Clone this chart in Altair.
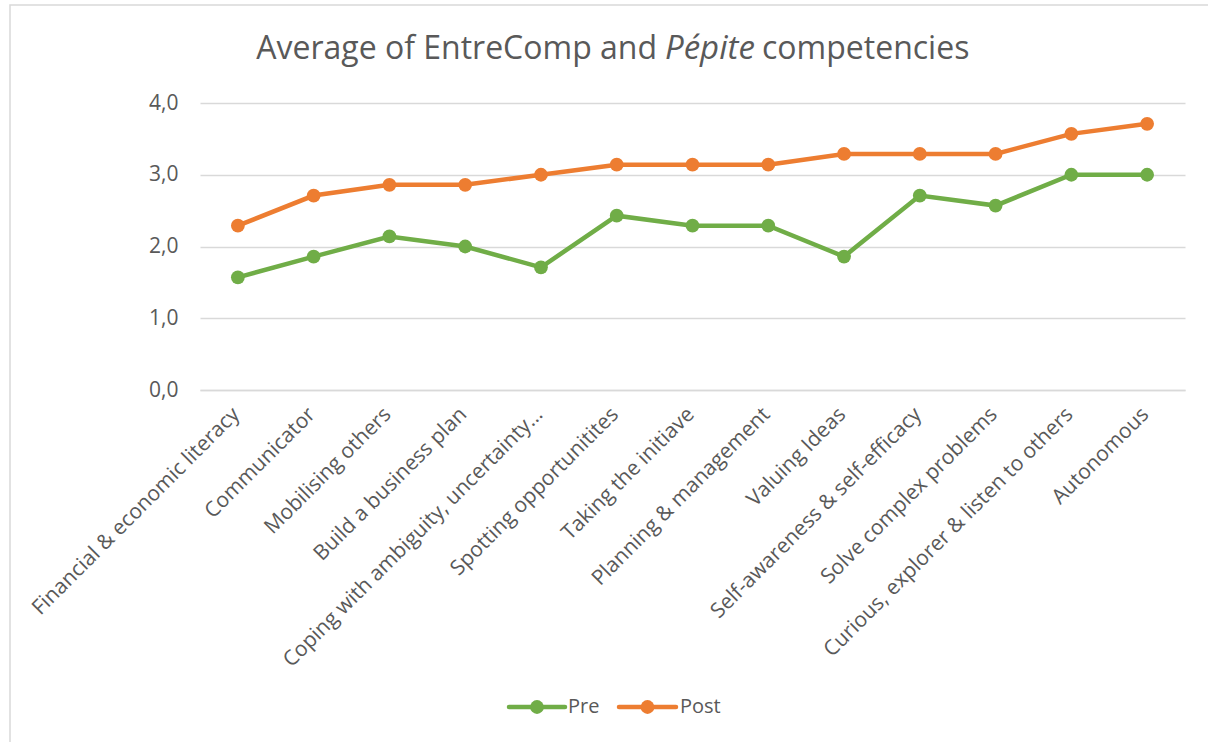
import altair as alt
import pandas as pd

categories = [
    "Financial  & economic literacy",
    "Communicator",
    "Mobilising others",
    "Build a business plan",
    "Coping with ambiguity, uncertainty…",
    "Spotting opportunitites",
    "Taking the initiave",
    "Planning & management",
    "Valuing Ideas",
    "Self-awareness & self-efficacy",
    "Solve complex problems",
    "Curious, explorer & listen to others",
    "Autonomous",
]
pre = [1.57, 1.86, 2.14, 2.00, 1.71, 2.43, 2.29, 2.29, 1.86, 2.71, 2.57, 3.00, 3.00]
post = [2.29, 2.71, 2.86, 2.86, 3.00, 3.14, 3.14, 3.14, 3.29, 3.29, 3.29, 3.57, 3.71]
series = ["Pre", "Post"]
colors = ["#70AD47", "#ED7D31"]
y_ticks = [0, 1, 2, 3, 4]

rows = []
for s, vals in zip(series, [pre, post]):
    for c, v in zip(categories, vals):
        rows.append({"category": c, "series": s, "value": v})
df = pd.DataFrame(rows)

FONT = "Open Sans"
GRAY = "#595959"
GRID = "#d9d9d9"

x_enc = alt.X(
    "category:N",
    sort=categories,
    title=None,
    axis=alt.Axis(
        labelAngle=-45,
        labelAlign="right",
        labelBaseline="middle",
        labelPadding=21,
        labelOffset=-2,
        labelFontSize=21,
        labelFont=FONT,
        labelColor=GRAY,
        ticks=False,
        domain=True,
        domainColor=GRID,
        domainWidth=1.3,
        grid=False,
        labelLimit=0,
    ),
)
y_enc = alt.Y(
    "value:Q",
    title=None,
    scale=alt.Scale(domain=[0, 4], nice=False),
    axis=alt.Axis(
        values=y_ticks,
        labelExpr="replace(format(datum.value, '.1f'), '.', ',')",
        labelFontSize=21,
        labelFont=FONT,
        labelColor=GRAY,
        labelPadding=22,
        ticks=False,
        domain=False,
        grid=True,
        gridColor=GRID,
        gridWidth=1.3,
    ),
)
color_enc = alt.Color(
    "series:N",
    scale=alt.Scale(domain=series, range=colors),
    legend=None,
)

base = alt.Chart(df)
lines = base.mark_line(strokeWidth=4.5).encode(x=x_enc, y=y_enc, color=color_enc, detail="series:N")
points = base.mark_point(filled=True, size=190, opacity=1).encode(
    x=x_enc, y=y_enc, color=color_enc
)

one = alt.Data(values=[{"a": 1}])

# Outer chart border
border = alt.Chart(one).mark_rect(fill=None, stroke=GRID, strokeWidth=1.5).encode(
    x=alt.value(-190), x2=alt.value(1030), y=alt.value(-98), y2=alt.value(660)
)

# Title pieces (italic middle word)
title_y = -54
TS = 32
t1 = alt.Chart(one).mark_text(
    text="Average of EntreComp and", font=FONT, fontSize=TS, color=GRAY, align="right", baseline="middle"
).encode(x=alt.value(457), y=alt.value(title_y))
t2 = alt.Chart(one).mark_text(
    text="Pépite", font=FONT, fontSize=TS + 1, fontStyle="italic", color=GRAY, align="left", baseline="middle"
).encode(x=alt.value(465), y=alt.value(title_y))
t3 = alt.Chart(one).mark_text(
    text="competencies", font=FONT, fontSize=TS, color=GRAY, align="left", baseline="middle"
).encode(x=alt.value(562), y=alt.value(title_y))

# Custom legend
ly = 604
leg = []
for name, col, x0, x1, tx in [("Pre", colors[0], 309, 365, 368), ("Post", colors[1], 419, 476, 480)]:
    leg.append(
        alt.Chart(one).mark_rule(stroke=col, strokeWidth=4.5, strokeCap="round").encode(
            x=alt.value(x0), x2=alt.value(x1), y=alt.value(ly)
        )
    )
    leg.append(
        alt.Chart(one).mark_point(filled=True, size=190, color=col, opacity=1).encode(
            x=alt.value((x0 + x1) / 2), y=alt.value(ly)
        )
    )
    leg.append(
        alt.Chart(one).mark_text(
            text=name, font=FONT, fontSize=20, color=GRAY, align="left", baseline="middle"
        ).encode(x=alt.value(tx), y=alt.value(ly))
    )

chart = (
    alt.layer(border, lines, points, t1, t2, t3, *leg)
    .properties(
        width=985,
        height=287,
        autosize=alt.AutoSizeParams(type="none"),
        padding={"left": 200, "top": 103, "right": 23, "bottom": 352},
        background="white",
    )
    .configure_view(stroke=None)
)

chart.save("out.html", embed_options={"renderer": "svg", "actions": False})
